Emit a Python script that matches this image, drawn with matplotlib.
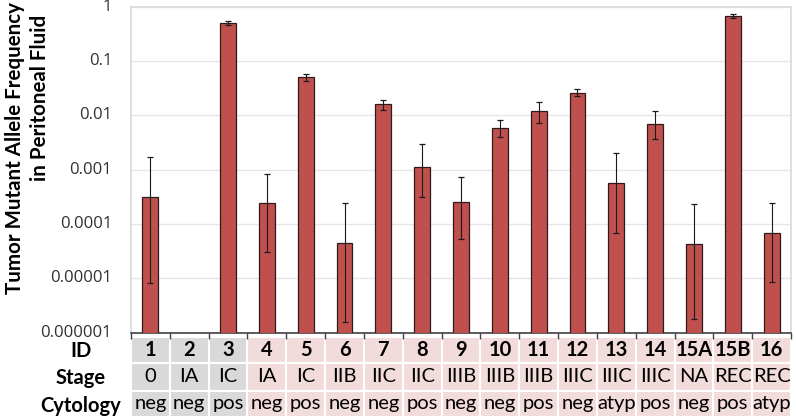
import numpy as np
import matplotlib
matplotlib.use("Agg")
import matplotlib.pyplot as plt
import matplotlib.transforms as mtransforms
from matplotlib.patches import Rectangle

plt.rcParams['font.family'] = ['Lato', 'DejaVu Sans']

ids = ["1", "2", "3", "4", "5", "6", "7", "8", "9", "10", "11", "12", "13", "14", "15A", "15B", "16"]
stage = ["0", "IA", "IC", "IA", "IC", "IIB", "IIC", "IIC", "IIIB", "IIIB", "IIIB", "IIIC", "IIIC", "IIIC", "NA", "REC", "REC"]
cytology = ["neg", "neg", "pos", "neg", "pos", "neg", "neg", "pos", "neg", "neg", "pos", "neg", "atyp", "pos", "neg", "pos", "atyp"]
# mutant allele frequency (nan = not detected), error bar low / high ends
freq = [3.2e-4, np.nan, 0.51, 2.4e-4, 0.051, 4.5e-5, 0.016, 0.0011, 2.5e-4, 0.0059,
        0.012, 0.026, 5.6e-4, 0.0069, 4.3e-5, 0.67, 6.8e-5]
err_lo = [8.1e-6, np.nan, 0.46, 3.0e-5, 0.043, 1.6e-6, 0.0126, 3.2e-4, 5.3e-5, 0.0040,
          0.0072, 0.023, 6.8e-5, 0.0037, 1.8e-6, 0.62, 8.5e-6]
err_hi = [1.7e-3, np.nan, 0.55, 8.3e-4, 0.058, 2.4e-4, 0.019, 0.0030, 7.3e-4, 0.0082,
          0.0175, 0.030, 0.0020, 0.012, 2.3e-4, 0.73, 2.4e-4]
grey_cols = 3  # first three patients have grey table cells
yticks = [1e-6, 1e-5, 1e-4, 1e-3, 1e-2, 1e-1, 1]
ytick_labels = ["0.000001", "0.00001", "0.0001", "0.001", "0.01", "0.1", "1"]

freq = np.array(freq)
lo = freq - np.array(err_lo)
hi = np.array(err_hi) - freq
x = np.arange(len(ids))

fig = plt.figure(figsize=(7.96, 4.19), dpi=100)
ax = fig.add_axes([0.1646, 0.206, 0.8291, 0.778])

ax.bar(x, freq, width=0.41, color="#C0504D", edgecolor="#2e1a1a", linewidth=0.9, zorder=3)
ax.errorbar(x, freq, yerr=[lo, hi], fmt="none", ecolor="#1a1a1a", elinewidth=0.8,
            capsize=2, capthick=0.9, zorder=4)

ax.set_yscale("log")
ax.set_ylim(1e-6, 1)
ax.set_xlim(-0.5, len(ids) - 0.5)
ax.set_yticks(yticks)
ax.set_yticklabels([""] * len(yticks))
ax.yaxis.set_minor_locator(matplotlib.ticker.NullLocator())
ax.tick_params(axis="y", length=0)
ax.grid(axis="y", color="#e6e6e6", linewidth=1, zorder=0)

# tick labels placed by hand, right edge at x = 112 px
ytrans = mtransforms.blended_transform_factory(fig.transFigure, ax.transData)
for v, lab in zip(yticks, ytick_labels):
    ax.text(112 / 796, v, lab, transform=ytrans, ha="right", va="center",
            fontsize=12, color="#303030", family="Open Sans", clip_on=False)

ax.set_xticks(np.arange(-0.5, len(ids)), minor=True)
ax.set_xticks([])
ax.tick_params(axis="x", which="minor", length=4, color="#404040", width=1)

for s in ["top", "right", "left"]:
    ax.spines[s].set_color("#d9d9d9")
    ax.spines[s].set_linewidth(1.2)
ax.spines["bottom"].set_color("#404040")
ax.spines["bottom"].set_linewidth(1.2)

# y label, two lines placed as in the original
fig.text(15 / 796, 1 - 148 / 419, "Tumor Mutant Allele Frequency", rotation=90,
         ha="center", va="center", fontsize=14.8, fontweight="bold")
fig.text(40 / 796, 1 - 98 / 419, "in Peritoneal Fluid", rotation=90,
         ha="center", va="center", fontsize=14.8, fontweight="bold")

# table below the axis
trans = mtransforms.blended_transform_factory(ax.transData, ax.transAxes)
row_edges = [-0.0123, -0.093, -0.178, -0.259]
rows = [ids, stage, cytology]
for r, vals in enumerate(rows):
    top, bot = row_edges[r], row_edges[r + 1]
    for i, v in enumerate(vals):
        col = "#d9d9d9" if i < grey_cols else "#f2dcdb"
        ax.add_patch(Rectangle((i - 0.5, bot), 1, top - bot, transform=trans,
                               facecolor=col, edgecolor="white", linewidth=1.5,
                               clip_on=False, zorder=1))
        ax.text(i, (top + bot) / 2, v, transform=trans, ha="center", va="center",
                fontsize=14.5, fontweight="bold" if r == 0 else "normal",
                color="black", clip_on=False)

fig_trans = mtransforms.blended_transform_factory(fig.transFigure, ax.transAxes)
for r, lab in enumerate(["ID", "Stage", "Cytology"]):
    top, bot = row_edges[r], row_edges[r + 1]
    ax.text(81 / 796, (top + bot) / 2 - 0.005, lab, transform=fig_trans, ha="center",
            va="center", fontsize=14.5, fontweight="bold", clip_on=False)

fig.savefig("out.png", dpi=100)
